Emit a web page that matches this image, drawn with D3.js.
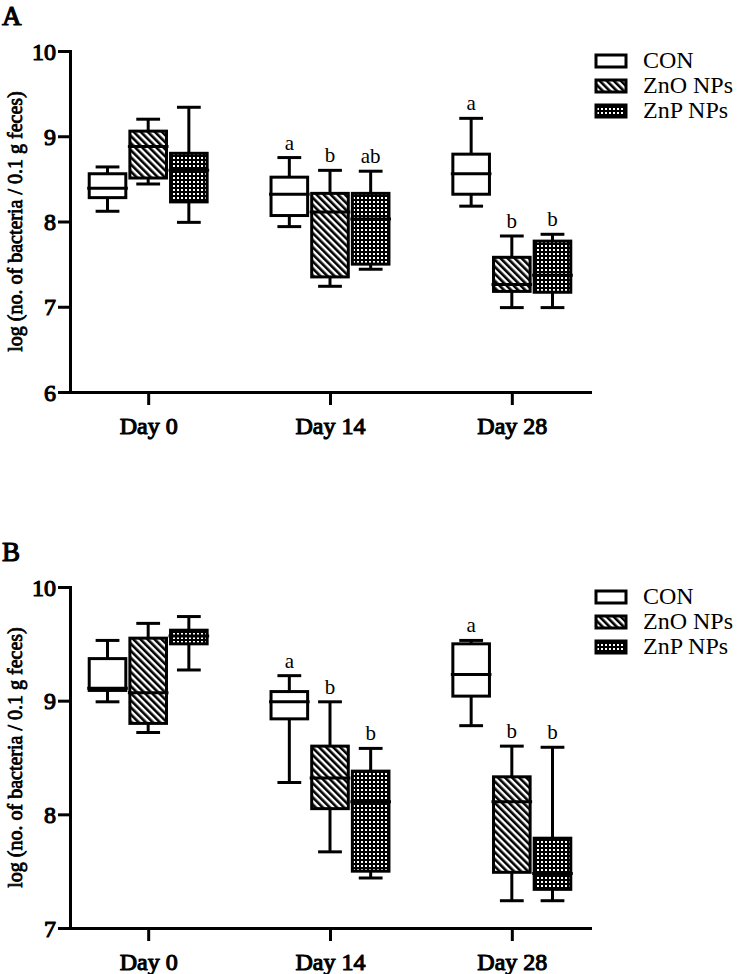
<!DOCTYPE html>
<html>
<head>
<meta charset="utf-8">
<script src="https://cdn.jsdelivr.net/npm/d3@7"></script>
<style>
  body { margin: 0; background: #fff; }
  svg { display: block; }
  text { font-family: "Liberation Serif", "Times New Roman", serif; }
</style>
</head>
<body>
<svg id="fig" width="737" height="974"></svg>
<script>
// categories
const days = ['Day 0', 'Day 14', 'Day 28']
const groups = ['CON', 'ZnO NPs', 'ZnP NPs']

// box stats per day: [whisker low, q1, median, q3, whisker high]
const conA = [[8.12, 8.28, 8.39, 8.56, 8.64], [7.94, 8.07, 8.32, 8.52, 8.75], [8.18, 8.32, 8.56, 8.79, 9.21]]
const znoA = [[8.44, 8.51, 8.88, 9.06, 9.20], [7.24, 7.35, 8.11, 8.33, 8.60], [6.99, 7.18, 7.26, 7.58, 7.83]]
const znpA = [[7.99, 8.23, 8.60, 8.80, 9.34], [7.44, 7.50, 8.03, 8.33, 8.59], [6.99, 7.17, 7.37, 7.77, 7.85]]

const conB = [[8.99, 9.09, 9.11, 9.37, 9.53], [8.28, 8.84, 8.99, 9.08, 9.22], [8.78, 9.04, 9.23, 9.50, 9.53]]
const znoB = [[8.72, 8.80, 9.07, 9.55, 9.68], [7.67, 8.05, 8.32, 8.60, 8.99], [7.24, 7.49, 8.11, 8.33, 8.60]]
const znpB = [[9.27, 9.50, 9.57, 9.62, 9.74], [7.44, 7.50, 8.11, 8.38, 8.58], [7.24, 7.34, 7.48, 7.79, 8.59]]

// significance letters per day, per group
const lettersA = [['', '', ''], ['a', 'b', 'ab'], ['a', 'b', 'b']]
const lettersB = [['', '', ''], ['a', 'b', 'b'], ['a', 'b', 'b']]

const ticksA = [6, 7, 8, 9, 10]
const ticksB = [7, 8, 9, 10]

const yTitle = 'log (no. of bacteria / 0.1 g feces)'

const svg = d3.select('#fig')
const margin = { top: 51, left: 70, right: 147 }
const plotW = 737 - margin.left - margin.right
const plotH = 341

// the bold serif face is not installed, so thicken the regular one
function heavy(sel, w) {
  sel.attr('font-weight', 'normal')
    .attr('stroke', '#000')
    .attr('stroke-width', w || 0.9)
    .attr('stroke-linejoin', 'round')
}

// fill patterns
const defs = svg.append('defs')
const stripe = defs.append('pattern')
  .attr('id', 'stripes')
  .attr('patternUnits', 'userSpaceOnUse')
  .attr('width', 5).attr('height', 5)
  .attr('patternTransform', 'rotate(-45)')
stripe.append('rect').attr('width', 5).attr('height', 5).attr('fill', '#fff')
stripe.append('rect').attr('width', 2.6).attr('height', 5).attr('fill', '#000')

const checker = defs.append('pattern')
  .attr('id', 'checker')
  .attr('patternUnits', 'userSpaceOnUse')
  .attr('width', 4).attr('height', 4)
checker.append('rect').attr('width', 4).attr('height', 4).attr('fill', '#000')
checker.append('rect').attr('x', 1).attr('y', 1).attr('width', 2).attr('height', 2).attr('fill', '#fff')

const fills = { 'CON': '#fff', 'ZnO NPs': 'url(#stripes)', 'ZnP NPs': 'url(#checker)' }

function drawPanel(offsetY, label, series, letters, ticks) {
  const g = svg.append('g').attr('transform', `translate(0, ${offsetY})`)

  g.append('text')
    .attr('x', 2).attr('y', 25)
    .attr('font-size', 27)
    .text(label)
    .call(heavy, 1.2)

  const y = d3.scaleLinear()
    .domain([d3.min(ticks), d3.max(ticks)])
    .range([margin.top + plotH, margin.top])

  const x = d3.scalePoint()
    .domain(days)
    .range([margin.left, margin.left + plotW])
    .padding(0.43)

  const xg = d3.scaleBand()
    .domain(groups)
    .range([-61, 61])

  const boxW = xg.bandwidth() * 0.9
  const capW = boxW * 0.65

  // y axis
  const ya = g.append('g')
    .attr('transform', `translate(${margin.left}, 0)`)
    .call(d3.axisLeft(y).tickValues(ticks).tickSize(12).tickSizeOuter(0).tickPadding(2).tickFormat(d3.format('d')))
  // x axis
  const xa = g.append('g')
    .attr('transform', `translate(0, ${margin.top + plotH})`)
    .call(d3.axisBottom(x).tickSize(13).tickSizeOuter(0).tickPadding(12))

  ;[ya, xa].forEach(a => {
    a.select('.domain').attr('stroke-width', 3).attr('stroke-linecap', 'square')
    a.selectAll('.tick line').attr('stroke-width', 3)
    a.selectAll('.tick text')
      .attr('fill', '#000')
      .call(heavy, 1.1)
  })
  ya.selectAll('.tick text').attr('font-size', 24).attr('dy', '0.34em')
  xa.selectAll('.tick text').attr('font-size', 24).attr('dy', '0.71em')

  g.append('text')
    .attr('transform', `translate(22, ${margin.top + plotH / 2}) rotate(-90)`)
    .attr('text-anchor', 'middle')
    .attr('font-size', 20)
    .text(yTitle)
    .call(heavy, 0.8)

  // boxes
  groups.forEach((grp, gi) => {
    series[gi].forEach((s, di) => {
      const [lo, q1, med, q3, hi] = s
      const cx = x(days[di]) + xg(grp) + xg.bandwidth() / 2
      const bg = g.append('g').attr('stroke', '#000').attr('stroke-width', 3)

      bg.append('line').attr('x1', cx).attr('x2', cx).attr('y1', y(hi)).attr('y2', y(q3))
      bg.append('line').attr('x1', cx).attr('x2', cx).attr('y1', y(q1)).attr('y2', y(lo))
      bg.append('line').attr('x1', cx - capW / 2).attr('x2', cx + capW / 2).attr('y1', y(hi)).attr('y2', y(hi))
      bg.append('line').attr('x1', cx - capW / 2).attr('x2', cx + capW / 2).attr('y1', y(lo)).attr('y2', y(lo))

      bg.append('rect')
        .attr('x', cx - boxW / 2).attr('width', boxW)
        .attr('y', y(q3)).attr('height', y(q1) - y(q3))
        .attr('fill', fills[grp])

      bg.append('line')
        .attr('x1', cx - boxW / 2 - 2).attr('x2', cx + boxW / 2 + 2)
        .attr('y1', y(med)).attr('y2', y(med))

      const lt = letters[di][gi]
      if (lt) {
        g.append('text')
          .attr('x', cx).attr('y', y(hi) - 8)
          .attr('text-anchor', 'middle')
          .attr('font-size', 21)
          .text(lt)
      }
    })
  })

  // legend
  const lg = g.append('g').attr('transform', 'translate(596, 61)')
  groups.forEach((grp, i) => {
    const row = lg.append('g').attr('transform', `translate(0, ${i * 25})`)
    row.append('rect')
      .attr('x', 0).attr('y', -6).attr('width', 30).attr('height', 12)
      .attr('fill', fills[grp]).attr('stroke', '#000').attr('stroke-width', 3)
    row.append('text')
      .attr('x', 47).attr('y', 7)
      .attr('font-size', 24)
      .text(grp)
  })
}

drawPanel(0, 'A', [conA, znoA, znpA], lettersA, ticksA)
drawPanel(536, 'B', [conB, znoB, znpB], lettersB, ticksB)
</script>
</body>
</html>
